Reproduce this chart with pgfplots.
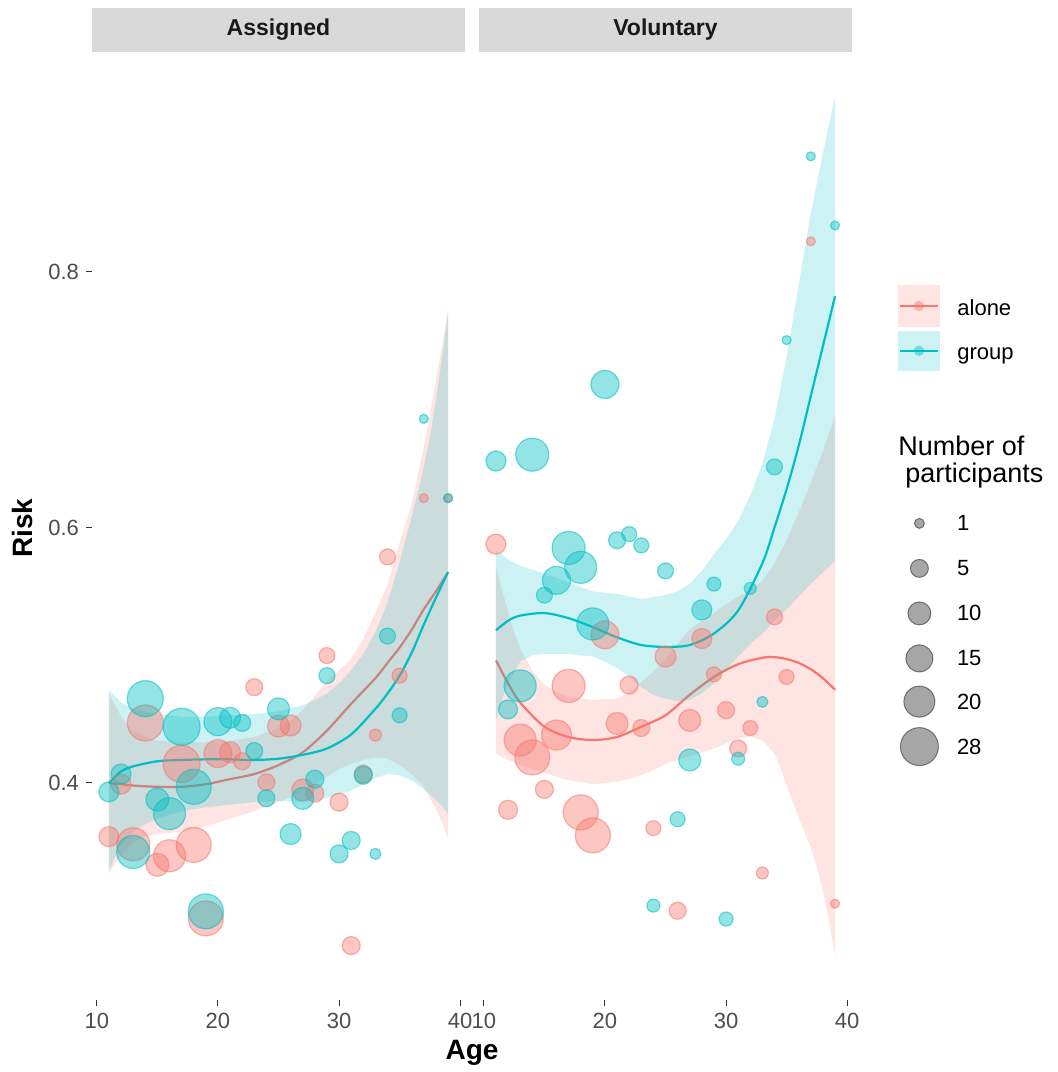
\documentclass[border=0pt]{standalone}
\usepackage{pgfplots}
\pgfplotsset{compat=1.18}
\usepackage{pgfplotstable}
\usepackage{fontspec}
\setmainfont{Liberation Sans}
\definecolor{pinkc}{HTML}{F8766D}
\definecolor{cyanc}{HTML}{00BFC4}
\definecolor{stripc}{HTML}{D9D9D9}
\definecolor{tickc}{HTML}{4D4D4D}

% points: age, risk, bubble diameter (px)
\pgfplotstableread{
x y d
11 0.358 20
12 0.399 20
13 0.352 33
14 0.447 36
15 0.336 23
16 0.343 32
17 0.415 37
18 0.3515 35
19 0.294 35
20 0.423 28
21 0.424 21
22 0.417 17
23 0.475 17
24 0.4005 17
25 0.4445 22
26 0.445 21
27 0.3945 22
28 0.392 18
29 0.4997 16
30 0.385 18
31 0.2727 18
32 0.407 18
33 0.4375 12
34 0.577 16
35 0.484 15
37 0.623 9
39 0.623 9
}\asalone
\pgfplotstableread{
x y d
11 0.393 20
12 0.407 20
13 0.346 33
14 0.466 36
15 0.387 23
16 0.376 32
17 0.444 37
18 0.397 35
19 0.2995 35
20 0.448 28
21 0.451 21
22 0.447 17
23 0.425 17
24 0.388 17
25 0.458 22
26 0.360 21
27 0.388 22
28 0.403 18
29 0.484 16
30 0.3445 18
31 0.355 18
32 0.406 18
33 0.3445 11
34 0.515 16
35 0.453 15
37 0.685 9
39 0.623 9
}\asgroup
\pgfplotstableread{
x y d
11 0.587 20
12 0.379 19
13 0.4336 32
14 0.420 35
15 0.395 18
16 0.4375 30
17 0.476 33
18 0.377 35
19 0.359 35
20 0.516 28
21 0.4466 22
22 0.4766 18
23 0.443 17
24 0.3646 15
25 0.499 21
26 0.300 17
27 0.449 22
28 0.513 20
29 0.485 15
30 0.457 17
31 0.427 17
32 0.443 15
33 0.3295 12
34 0.530 16
35 0.483 15
37 0.824 9
39 0.3055 9
}\voalone
\pgfplotstableread{
x y d
11 0.652 20
12 0.4576 19
13 0.476 32
14 0.657 33
15 0.547 16
16 0.5586 28
17 0.584 33
18 0.5688 32
19 0.5245 32
20 0.712 28
21 0.590 17
22 0.5948 15
23 0.586 15
24 0.304 13
25 0.566 16
26 0.3716 15
27 0.418 22
28 0.5355 20
29 0.5557 14
30 0.2935 14
31 0.419 13
32 0.5523 12
33 0.4635 11
34 0.6474 16
35 0.7467 9
37 0.8905 9
39 0.8364 9
}\vogroup

% smooth fitted lines: x, alone, group
\pgfplotstableread{
x pm gm
11 0.400 0.400
12 0.399 0.409
13 0.398 0.413
15 0.397 0.417
17 0.397 0.418
19 0.399 0.4185
21 0.403 0.4185
23 0.407 0.418
25 0.414 0.419
27 0.424 0.422
29 0.441 0.427
31 0.462 0.438
33 0.482 0.458
34 0.494 0.470
35 0.506 0.484
36 0.520 0.502
37 0.536 0.524
38 0.550 0.545
39 0.565 0.565
}\assm
\pgfplotstableread{
x pm gm
11 0.496 0.5195
12 0.478 0.527
13 0.463 0.531
15 0.444 0.533
17 0.436 0.529
19 0.4336 0.522
21 0.436 0.514
23 0.444 0.508
25 0.453 0.5065
27 0.469 0.508
29 0.483 0.517
31 0.493 0.535
33 0.498 0.572
34 0.4985 0.600
35 0.497 0.630
36 0.494 0.664
37 0.489 0.703
38 0.482 0.742
39 0.473 0.781
}\vosm

\pgfplotsset{
  panel/.style={
    scale only axis, width=186.5pt, height=474pt,
    xmin=9.6, xmax=40.4, ymin=0.2301, ymax=0.9722,
    axis x line*=bottom, axis y line*=left, axis line style={draw=none},
    xtick={10,20,30,40}, xticklabels={10,20,30,40},
    tick align=outside, major tick length=3pt,
    tick style={color=black!80, line width=0.5pt},
    ticklabel style={font=\fontsize{11}{13}\selectfont, text=tickc},
    anchor=north west,
  },
  bub/.style={scatter, only marks, mark=*,
    scatter/use mapped color={draw=#1, fill=#1, fill opacity=0.42, draw opacity=0.55},
    visualization depends on={\thisrow{d}/4 \as \msz},
    scatter/@pre marker code/.append style={/tikz/mark size=\msz},
    mark options={line width=0.6pt}},
  band/.style={fill=#1, fill opacity=0.2, draw=none, forget plot},
  fit/.style={#1, line width=1.1pt, smooth, forget plot},
}

\begin{document}
\begin{tikzpicture}
\useasboundingbox (0,0) rectangle (529pt,-536pt);
% strips
\fill[stripc] (46pt,-4pt) rectangle (232.5pt,-26pt);
\fill[stripc] (239.5pt,-4pt) rectangle (426pt,-26pt);
\node[font=\fontsize{11.5}{13}\selectfont\bfseries, text=black!90] at (139.25pt,-15pt) {Assigned};
\node[font=\fontsize{11.5}{13}\selectfont\bfseries, text=black!90] at (332.75pt,-15pt) {Voluntary};

\begin{axis}[panel, at={(46pt,-26pt)},
  ytick={0.4,0.6,0.8}, yticklabels={0.4,0.6,0.8}]
  \addplot[bub=pinkc] table {\asalone};
  \addplot[bub=cyanc] table {\asgroup};
  \addplot[band=pinkc] coordinates {(11,0.470)(12,0.452)(13,0.440)(14,0.436)(15,0.433)(17,0.432)(19,0.432)(21,0.433)(23,0.436)(25,0.443)(26,0.449)(27,0.457)(28,0.468)(29,0.480)(30,0.488)(31,0.497)(32,0.513)(33,0.533)(34,0.555)(35,0.588)(36,0.618)(37,0.663)(37.5,0.688)(38,0.715)(38.5,0.742)(39,0.771)
    (39,0.357)(38.5,0.369)(38,0.380)(37,0.397)(36,0.407)(35,0.414)(34,0.419)(33,0.420)(32,0.418)(31,0.415)(30,0.411)(29,0.405)(28,0.399)(27,0.393)(25,0.385)(23,0.378)(21,0.372)(19,0.366)(17,0.362)(15,0.360)(14,0.358)(13,0.354)(12,0.344)(11,0.329)};
  \addplot[fit=pinkc] table[x=x, y=pm] {\assm};
  \addplot[band=cyanc] coordinates {(11,0.4727)(12,0.463)(13,0.458)(14,0.456)(15,0.454)(17,0.452)(19,0.452)(21,0.453)(23,0.454)(25,0.456)(27,0.461)(28,0.465)(29,0.470)(30,0.478)(31,0.488)(32,0.501)(33,0.518)(34,0.541)(35,0.573)(36,0.608)(37,0.647)(37.5,0.670)(38,0.700)(38.5,0.732)(39,0.767)
    (39,0.376)(38.5,0.382)(38,0.387)(37,0.395)(36,0.402)(35,0.406)(34,0.407)(33,0.404)(32,0.399)(31,0.394)(30,0.391)(29,0.388)(28,0.386)(27,0.385)(25,0.386)(23,0.385)(21,0.383)(19,0.381)(17,0.378)(15,0.372)(14,0.368)(13,0.362)(12,0.351)(11,0.332)};
  \addplot[fit=cyanc] table[x=x, y=gm] {\assm};
\end{axis}

\begin{axis}[panel, at={(239.5pt,-26pt)}, ytick=\empty]
  \addplot[bub=pinkc] table {\voalone};
  \addplot[bub=cyanc] table {\vogroup};
  \addplot[band=pinkc] coordinates {(11,0.570)(11.5,0.551)(12,0.535)(12.5,0.518)(13,0.505)(14,0.488)(15,0.477)(16,0.471)(17,0.467)(19,0.465)(21,0.466)(22,0.471)(23,0.479)(24,0.487)(25,0.497)(26,0.509)(27,0.520)(28,0.527)(29,0.533)(30,0.540)(31,0.546)(32,0.551)(33,0.558)(34,0.572)(35,0.590)(36,0.612)(37,0.635)(38,0.660)(39,0.687)
    (39,0.264)(38.5,0.292)(38,0.316)(37.5,0.334)(37,0.350)(36,0.373)(35,0.398)(34.5,0.412)(34,0.423)(33,0.4336)(32,0.436)(31,0.435)(30,0.431)(29,0.427)(28,0.424)(27,0.421)(26,0.418)(25,0.415)(24,0.410)(23,0.406)(22,0.403)(21,0.401)(19,0.399)(17,0.402)(15,0.408)(13,0.414)(12,0.418)(11,0.4232)};
  \addplot[fit=pinkc] table[x=x, y=pm] {\vosm};
  \addplot[band=cyanc] coordinates {(11,0.582)(12,0.575)(13,0.570)(15,0.564)(17,0.557)(19,0.550)(21,0.548)(23,0.544)(25,0.547)(26,0.550)(27,0.556)(28,0.566)(29,0.579)(30,0.591)(31,0.605)(32,0.625)(33,0.650)(34,0.685)(35,0.733)(36,0.790)(37,0.846)(38,0.893)(39,0.937)
    (39,0.574)(38,0.565)(37,0.556)(36,0.546)(35,0.536)(34,0.527)(33,0.517)(32,0.509)(31,0.499)(30,0.489)(29,0.478)(28,0.470)(27,0.465)(26,0.464)(25,0.466)(24,0.469)(23,0.475)(22,0.483)(21,0.490)(20,0.495)(19,0.499)(17,0.501)(15,0.501)(14,0.500)(13,0.495)(12,0.478)(11.5,0.465)(11,0.449)};
  \addplot[fit=cyanc] table[x=x, y=gm] {\vosm};
\end{axis}

% axis titles
\node[font=\fontsize{14}{16}\selectfont\bfseries, rotate=90] at (11pt,-264pt) {Risk};
\node[font=\fontsize{14}{16}\selectfont\bfseries] at (236pt,-526.5pt) {Age};

% colour legend
\fill[pinkc, fill opacity=0.2] (449pt,-142.5pt) rectangle (470pt,-163.5pt);
\draw[pinkc, line width=1.1pt] (450pt,-153pt) -- (469pt,-153pt);
\fill[pinkc, fill opacity=0.45] (459.5pt,-153pt) circle (2.6pt);
\fill[cyanc, fill opacity=0.2] (449pt,-165.3pt) rectangle (470pt,-185.5pt);
\draw[cyanc, line width=1.1pt] (450pt,-175.4pt) -- (469pt,-175.4pt);
\fill[cyanc, fill opacity=0.45] (459.5pt,-175.4pt) circle (2.6pt);
\node[anchor=base west, font=\fontsize{11}{13}\selectfont, inner sep=0pt] at (478.5pt,-157.5pt) {alone};
\node[anchor=base west, font=\fontsize{11}{13}\selectfont, inner sep=0pt] at (478.5pt,-179.7pt) {group};

% size legend
\node[anchor=base west, font=\fontsize{13.5}{15}\selectfont, inner sep=0pt] at (449pt,-227.5pt) {Number of};
\node[anchor=base west, font=\fontsize{13.5}{15}\selectfont, inner sep=0pt] at (452.5pt,-241.3pt) {participants};
\foreach \yy/\rr/\lab in {-261.7/2.5/1, -284.2/4.5/5, -306.7/5.75/10, -329.2/6.75/15, -350.8/7.75/20, -373.3/9.5/28}{
  \draw[black, fill opacity=0.35, draw opacity=0.45, fill=black, line width=0.5pt] (459.7pt,\yy pt) circle (\rr pt);
  \node[anchor=west, font=\fontsize{11}{13}\selectfont, inner sep=0pt] at (478.3pt,\yy pt) {\lab};
}
\end{tikzpicture}
\end{document}
